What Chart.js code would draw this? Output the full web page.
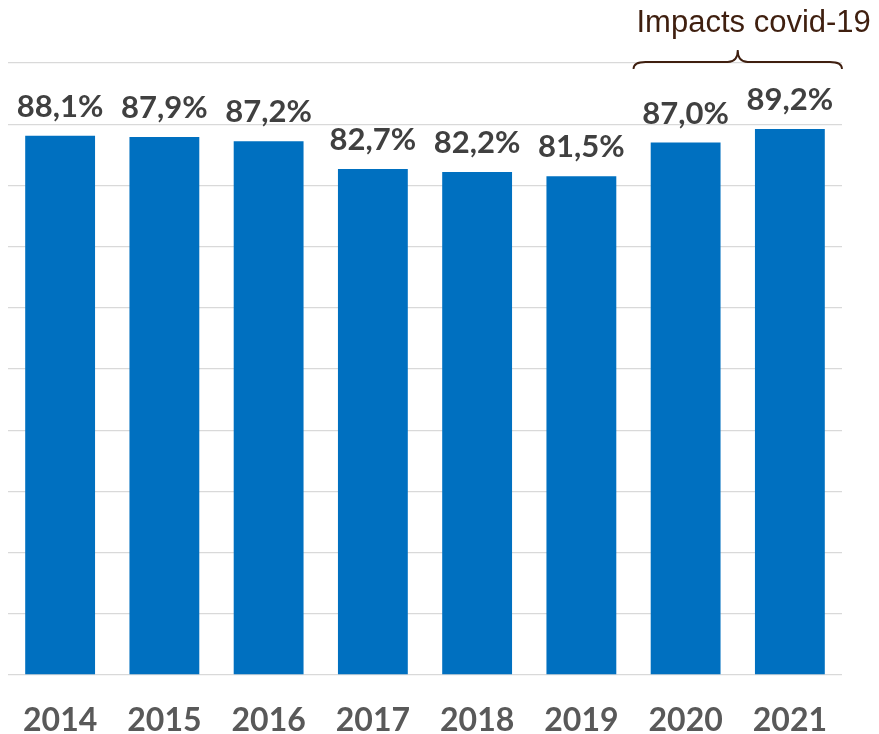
<!DOCTYPE html>
<html>
<head>
<meta charset="utf-8">
<script src="https://cdn.jsdelivr.net/npm/chart.js@4"></script>
<style>
html,body{margin:0;padding:0;background:#fff;}
#wrap{width:879px;height:734px;position:relative;}
</style>
</head>
<body>
<div id="wrap"><canvas id="c"></canvas></div>
<script>
const years = ['2014','2015','2016','2017','2018','2019','2020','2021'];
const rates = [88.1, 87.9, 87.2, 82.7, 82.2, 81.5, 87.0, 89.2];
const annotationText = 'Impacts covid-19';
const annotatedYears = ['2020','2021'];

const fmt = v => v.toFixed(1).replace('.', ',') + '%';

const overlay = {
  id: 'overlay',
  afterDatasetsDraw(chart) {
    const ctx = chart.ctx;
    const meta = chart.getDatasetMeta(0);
    ctx.save();
    ctx.fillStyle = '#404040';
    ctx.font = 'bold 31px Lato';
    ctx.textAlign = 'center';
    ctx.textBaseline = 'alphabetic';
    meta.data.forEach((bar, i) => {
      ctx.fillText(fmt(rates[i]), bar.x, bar.y - 19);
    });
    // brace
    const xs = chart.scales.x;
    const i0 = years.indexOf(annotatedYears[0]);
    const i1 = years.indexOf(annotatedYears[annotatedYears.length-1]);
    const half = (xs.getPixelForValue(1) - xs.getPixelForValue(0)) / 2;
    const left = xs.getPixelForValue(i0) - half;
    const right = xs.getPixelForValue(i1) + half;
    const mid = (left + right) / 2;
    const top = 50, arm = 62, tip = 69;
    ctx.strokeStyle = '#3f1f0f';
    ctx.lineWidth = 1.8;
    ctx.beginPath();
    ctx.moveTo(left, tip);
    ctx.quadraticCurveTo(left, arm, left + 12, arm);
    ctx.lineTo(mid - 10, arm);
    ctx.quadraticCurveTo(mid, arm, mid, top);
    ctx.quadraticCurveTo(mid, arm, mid + 10, arm);
    ctx.lineTo(right - 12, arm);
    ctx.quadraticCurveTo(right, arm, right, tip);
    ctx.stroke();
    ctx.fillStyle = '#3f1f0f';
    ctx.font = '31px "Liberation Sans"';
    ctx.textAlign = 'left';
    ctx.fillText(annotationText, left + 3, 32);
    ctx.restore();
  }
};

new Chart(document.getElementById('c'), {
  type: 'bar',
  data: {
    labels: years,
    datasets: [{
      data: rates,
      backgroundColor: '#0070C0',
      categoryPercentage: 1,
      barPercentage: 0.67
    }]
  },
  options: {
    responsive: true,
    maintainAspectRatio: false,
    animation: false,
    layout: { padding: { left: 8, right: 37, top: 63, bottom: 0 } },
    plugins: { legend: { display: false }, tooltip: { enabled: false } },
    scales: {
      y: {
        min: 0, max: 100,
        ticks: { display: false, stepSize: 10 },
        grid: { color: '#d9d9d9', lineWidth: 1.3, drawTicks: false },
        border: { display: false }
      },
      x: {
        afterFit: (scale) => { scale.height = 59; scale.paddingLeft = 0; scale.paddingRight = 0; },
        grid: { display: false, drawTicks: false },
        border: { display: false },
        ticks: { color: '#595959', font: { family: 'Lato', weight: 'bold', size: 32, lineHeight: 1.08 }, padding: 28 }
      }
    }
  },
  plugins: [overlay]
});
</script>
</body>
</html>
